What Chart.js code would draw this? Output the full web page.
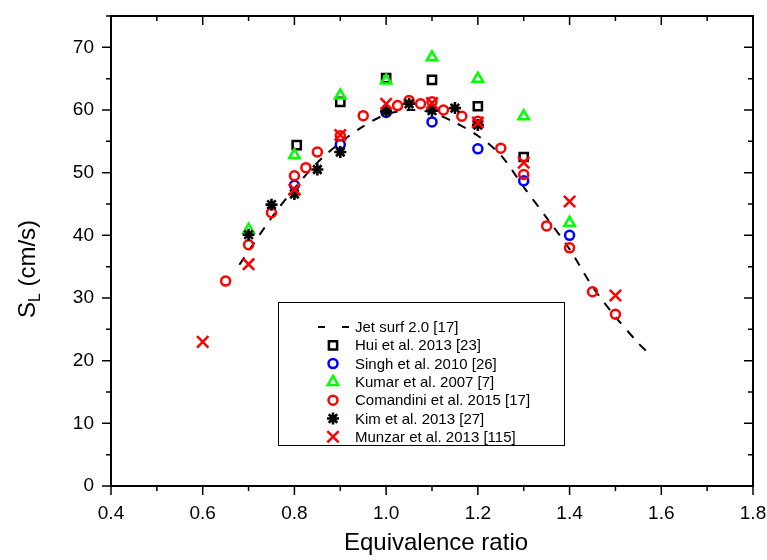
<!DOCTYPE html>
<html>
<head>
<meta charset="utf-8">
<title>Laminar flame speed vs equivalence ratio</title>
<script src="https://cdn.jsdelivr.net/npm/chart.js"></script>
<style>
  html, body { margin: 0; padding: 0; background: #fff; }
</style>
</head>
<body>
<canvas id="flameChart" width="767" height="560"></canvas>
<script>
    // axis ticks
    const xTicks = [0.4, 0.6, 0.8, 1.0, 1.2, 1.4, 1.6, 1.8];
    const yTicks = [0, 10, 20, 30, 40, 50, 60, 70];

    // Jet surf 2.0 [17] - dashed model curve
    const jetPhi = [0.68, 0.7, 0.75, 0.8, 0.85, 0.9, 0.95, 1.0, 1.05, 1.1, 1.15, 1.2, 1.25, 1.3, 1.35, 1.4, 1.45, 1.5, 1.55, 1.572];
    const jetSL  = [35.3, 37.5, 42.8, 47.5, 51.6, 54.8, 57.4, 59.3, 60.0, 59.6, 58.0, 55.9, 52.8, 47.7, 42.8, 37.8, 31.8, 27.0, 22.8, 21.2];

    // Hui et al. 2013 [23]
    const huiPhi = [0.805, 0.9, 1.0, 1.1, 1.2, 1.3];
    const huiSL  = [54.4, 61.3, 65.1, 64.8, 60.6, 52.5];

    // Singh et al. 2010 [26]
    const singhPhi = [0.8, 0.9, 1.0, 1.1, 1.2, 1.3, 1.4];
    const singhSL  = [48.0, 54.5, 59.6, 58.1, 53.8, 48.7, 40.0];

    // Kumar et al. 2007 [7]
    const kumarPhi = [0.7, 0.8, 0.9, 1.0, 1.1, 1.2, 1.3, 1.4];
    const kumarSL  = [40.9, 52.8, 62.3, 64.7, 68.4, 65.0, 59.0, 42.0];

    // Comandini et al. 2015 [17]
    const comPhi = [0.65, 0.7, 0.75, 0.8, 0.825, 0.85, 0.9, 0.95, 1.025, 1.05, 1.075, 1.1, 1.125, 1.165, 1.2, 1.25, 1.3, 1.35, 1.4, 1.45, 1.5];
    const comSL  = [32.7, 38.5, 43.6, 49.5, 50.8, 53.3, 55.9, 59.1, 60.7, 61.5, 61.0, 61.3, 60.0, 59.0, 58.2, 53.9, 49.7, 41.5, 38.0, 31.0, 27.4];

    // Kim et al. 2013 [27]
    const kimPhi = [0.7, 0.75, 0.8, 0.85, 0.9, 1.0, 1.05, 1.1, 1.15, 1.2];
    const kimSL  = [40.1, 44.9, 46.6, 50.5, 53.3, 59.8, 61.0, 59.9, 60.3, 57.6];

    // Munzar et al. 2013 [115]
    const munPhi = [0.6, 0.7, 0.8, 0.9, 1.0, 1.1, 1.2, 1.3, 1.4, 1.5];
    const munSL  = [23.0, 35.4, 47.3, 56.0, 61.0, 61.1, 58.0, 51.6, 45.4, 30.4];

    const pts = (xs, ys) => xs.map((v, i) => ({x: v, y: ys[i]}));
    const FONT = '"Liberation Sans", Arial, sans-serif';
    Chart.defaults.font.family = FONT;
    Chart.defaults.color = '#000';

    const marker = (label, data, color, style, radius, width, order) => ({
        label: label,
        data: data,
        showLine: false,
        pointStyle: style,
        pointRadius: radius,
        pointHoverRadius: radius,
        pointBorderWidth: width,
        pointBorderColor: color,
        pointBackgroundColor: 'rgba(0,0,0,0)',
        borderColor: color,
        backgroundColor: 'rgba(0,0,0,0)',
        order: order
    });

    // frame, ticks, titles and boxed legend
    const decor = {
        id: 'decor',
        afterDraw(chart) {
            const {ctx, chartArea: a, scales: {x, y}} = chart;
            ctx.save();
            ctx.strokeStyle = '#000';
            ctx.lineWidth = 1.5;
            ctx.beginPath();
            for (let i = 0; i <= 14; i++) {
                const px = x.getPixelForValue(0.4 + i * 0.1);
                const len = i % 2 === 0 ? 9 : 5;
                ctx.moveTo(px, a.bottom); ctx.lineTo(px, a.bottom + len);
                ctx.moveTo(px, a.top); ctx.lineTo(px, a.top + len);
            }
            for (let v = 0; v <= 75; v += 5) {
                const py = y.getPixelForValue(v);
                const len = v % 10 === 0 ? 9 : 5;
                ctx.moveTo(a.left, py); ctx.lineTo(a.left - len, py);
                ctx.moveTo(a.right, py); ctx.lineTo(a.right - len, py);
            }
            ctx.stroke();
            ctx.lineWidth = 2;
            ctx.strokeRect(a.left, a.top, a.right - a.left, a.bottom - a.top);

            // x title
            ctx.fillStyle = '#000';
            ctx.font = '24px ' + FONT;
            ctx.textAlign = 'center';
            ctx.textBaseline = 'alphabetic';
            ctx.fillText('Equivalence ratio', 436, 550);

            // y title with subscript
            ctx.save();
            ctx.translate(35, 269);
            ctx.rotate(-Math.PI / 2);
            ctx.textAlign = 'left';
            ctx.font = '24px ' + FONT;
            const wS = ctx.measureText('S').width;
            const wR = ctx.measureText(' (cm/s)').width;
            ctx.font = '16px ' + FONT;
            const wL = ctx.measureText('L').width;
            let sx = -(wS + wL + wR) / 2;
            ctx.font = '24px ' + FONT;
            ctx.fillText('S', sx, 0);
            ctx.font = '16px ' + FONT;
            ctx.fillText('L', sx + wS, 5);
            ctx.font = '24px ' + FONT;
            ctx.fillText(' (cm/s)', sx + wS + wL, 0);
            ctx.restore();

            // legend
            ctx.lineWidth = 1;
            ctx.strokeRect(278.5, 302.5, 286, 143);
            ctx.font = '15px ' + FONT;
            ctx.textAlign = 'left';
            ctx.textBaseline = 'middle';
            chart.data.datasets.forEach((ds, i) => {
                const ly = 327 + i * 18.3;
                ctx.strokeStyle = ds.borderColor;
                if (ds.showLine) {
                    ctx.lineWidth = 2;
                    ctx.setLineDash([7, 17]);
                    ctx.beginPath();
                    ctx.moveTo(318, ly); ctx.lineTo(350, ly);
                    ctx.stroke();
                    ctx.setLineDash([]);
                } else {
                    ctx.lineWidth = ds.pointBorderWidth;
                    ctx.fillStyle = 'rgba(0,0,0,0)';
                    Chart.helpers.drawPoint(ctx, {
                        pointStyle: ds.pointStyle, radius: ds.pointRadius,
                        rotation: 0, borderWidth: ds.pointBorderWidth
                    }, 333, ly);
                }
                ctx.fillStyle = '#000';
                ctx.fillText(ds.label, 355, ly + 1);
            });
            ctx.restore();
        }
    };

    const ctx = document.getElementById('flameChart').getContext('2d');
    new Chart(ctx, {
        type: 'scatter',
        data: {
            datasets: [
                {
                    label: 'Jet surf 2.0 [17]',
                    data: pts(jetPhi, jetSL),
                    showLine: true,
                    pointRadius: 0,
                    borderColor: '#000',
                    borderWidth: 2,
                    borderDash: [9, 9],
                    tension: 0.3,
                    order: 7
                },
                marker('Hui et al. 2013 [23]', pts(huiPhi, huiSL), '#000000', 'rect', 5.8, 2.5, 6),
                marker('Singh et al. 2010 [26]', pts(singhPhi, singhSL), '#0000ff', 'circle', 4.5, 2.5, 5),
                marker('Kumar et al. 2007 [7]', pts(kumarPhi, kumarSL), '#00ff00', 'triangle', 6, 2.5, 4),
                marker('Comandini et al. 2015 [17]', pts(comPhi, comSL), '#ff0000', 'circle', 4.5, 2.5, 3),
                marker('Kim et al. 2013 [27]', pts(kimPhi, kimSL), '#000000', 'star', 6, 2.6, 2),
                marker('Munzar et al. 2013 [115]', pts(munPhi, munSL), '#ff0000', 'crossRot', 8, 2.5, 1)
            ]
        },
        options: {
            responsive: false,
            animation: false,
            layout: { padding: { top: 16, right: 14, left: 0, bottom: 0 } },
            plugins: { legend: { display: false }, tooltip: { enabled: false } },
            scales: {
                x: {
                    type: 'linear',
                    min: 0.4,
                    max: 1.8,
                    afterBuildTicks: s => { s.ticks = xTicks.map(v => ({value: v})); },
                    afterFit: s => { s.height = 74; s.paddingLeft = 0; s.paddingRight = 0; },
                    grid: { display: false, drawTicks: false },
                    border: { display: false },
                    ticks: { font: { size: 19 }, padding: 16, maxRotation: 0, callback: v => v.toFixed(1) }
                },
                y: {
                    min: 0,
                    max: 75,
                    afterBuildTicks: s => { s.ticks = yTicks.map(v => ({value: v})); },
                    afterFit: s => { s.width = 111; s.paddingTop = 0; s.paddingBottom = 0; },
                    grid: { display: false, drawTicks: false },
                    border: { display: false },
                    ticks: { font: { size: 19 }, padding: 17, callback: v => String(v) }
                }
            }
        },
        plugins: [decor]
    });
</script>
</body>
</html>
